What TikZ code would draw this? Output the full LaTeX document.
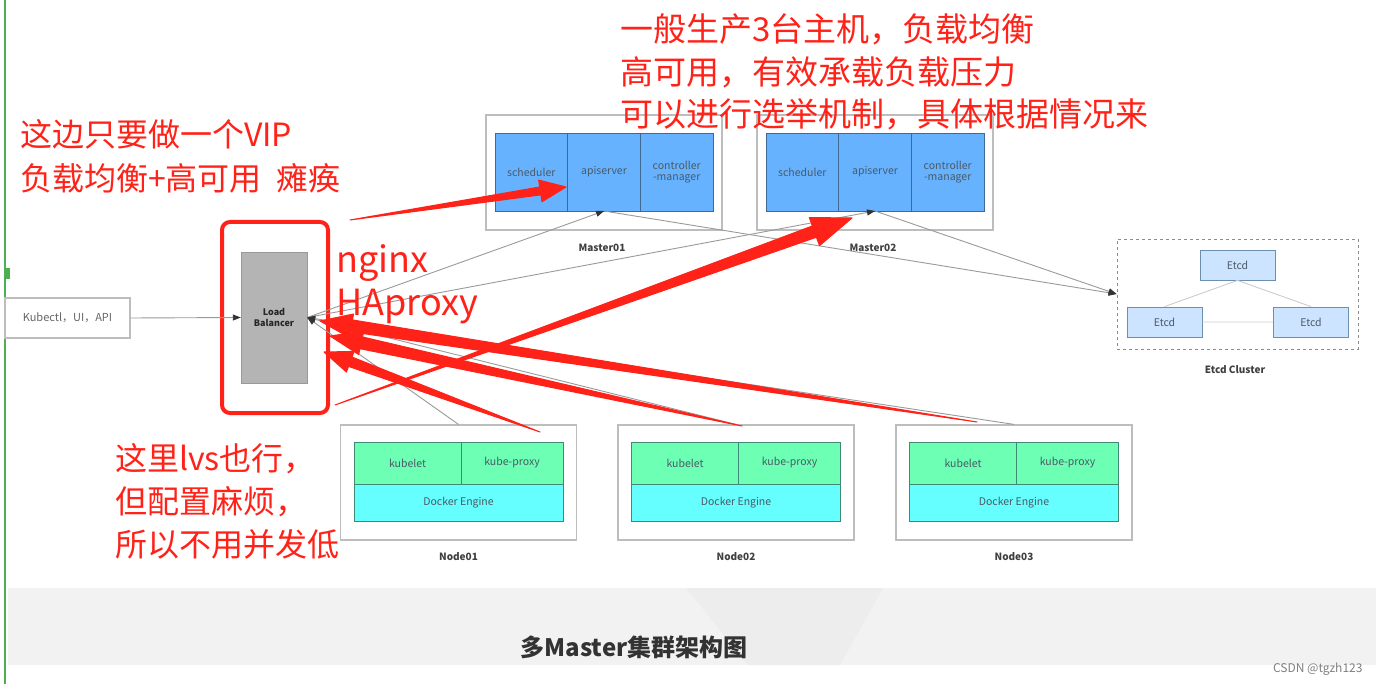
\documentclass[tikz,border=0pt]{standalone}
\usepackage{fontspec}
\setmainfont{Noto Sans CJK SC}
\usetikzlibrary{arrows.meta,positioning,calc}
\definecolor{annot}{HTML}{FF2218}
\definecolor{wirec}{HTML}{9A9A9A}
\definecolor{tipc}{HTML}{333333}
\definecolor{apic}{HTML}{66B2FF}
\definecolor{apiln}{HTML}{3F6A94}
\definecolor{kubec}{HTML}{6DFFB3}
\definecolor{dockc}{HTML}{66FFFF}
\definecolor{nodeln}{HTML}{3E8A74}
\definecolor{etcdc}{HTML}{CCE4FF}
\definecolor{etcdln}{HTML}{6C8FB0}
\definecolor{lbc}{HTML}{B4B4B4}
\definecolor{boxln}{HTML}{BDBDBD}
\definecolor{labc}{HTML}{4A5A66}
\definecolor{edge}{HTML}{4CAF50}

% tail, tip, shaft half width, head length, head half width
\newcommand\fatarrow[5]{%
  \coordinate (fa-b) at ($(#2)!#4!(#1)$);
  \filldraw[annot,line width=1pt,line join=round]
    (#1) -- ($(fa-b)!#3!90:(#2)$) -- ($(fa-b)!#5!90:(#2)$) -- (#2)
    -- ($(fa-b)!#5!-90:(#2)$) -- ($(fa-b)!#3!-90:(#2)$) -- cycle;}

\begin{document}
\begin{tikzpicture}[x=1pt,y=-1pt,
    hostbox/.style={draw=boxln,line width=1.2pt,fill=white,minimum width=236pt,minimum height=115pt,inner sep=0pt},
    mcell/.style={draw=apiln,fill=apic,line width=0.8pt,minimum width=72.7pt,minimum height=78pt,inner sep=0pt,outer sep=0pt,
      text=labc,align=center,font=\fontsize{10.5}{11.5}\selectfont},
    kcell/.style={draw=nodeln,fill=kubec,line width=0.8pt,minimum height=42pt,inner sep=0pt,outer sep=0pt,
      text=labc,font=\fontsize{10.5}{11.5}\selectfont},
    dock/.style={draw=nodeln,fill=dockc,line width=0.8pt,minimum width=209pt,minimum height=37pt,inner sep=0pt,outer sep=0pt,
      text=labc,font=\fontsize{10.5}{11.5}\selectfont},
    etcd/.style={draw=etcdln,fill=etcdc,line width=0.8pt,minimum width=75pt,minimum height=30pt,inner sep=0pt,
      text=labc,font=\fontsize{10.5}{11.5}\selectfont},
    lab/.style={text=black!75,font=\bfseries\fontsize{10}{12}\selectfont},
    wire/.style={draw=wirec,line width=0.9pt},
    arr/.style={-{Triangle[length=8pt,width=6pt,color=tipc]}},
    note/.style={text=annot,inner sep=0pt,anchor=base west,font=\fontsize{32}{40}\selectfont}]
  \useasboundingbox (0,0) rectangle (1380,684);
  \fill[white] (0,0) rectangle (1380,684);
  % grey band at the bottom
  \fill[black!5] (8,588) rectangle (1376,665);
  \fill[black!7] (686,588) -- (883,588) -- (840,665) -- (748,665) -- cycle;
  \draw[edge,line width=2pt] (5,0) -- (5,684);
  \fill[edge] (4,268) rectangle (10,279);

  % client and load balancer
  \node[draw=boxln,line width=1.2pt,fill=white,minimum width=125pt,minimum height=40pt,text=black!60,
    font=\fontsize{11}{12}\selectfont] (kub) at (67.5,318) {Kubectl，UI，API};
  \node[draw=black!40,fill=lbc,minimum width=66pt,minimum height=131pt,align=center,text=black!85,
    font=\bfseries\fontsize{9}{11}\selectfont] (lb) at (274,317.5) {Load\\Balancer};
  \node[draw=annot,line width=4pt,rounded corners=8pt,minimum width=106pt,minimum height=191pt] (lbframe) at (275,317.5) {};

  % masters
  \foreach \m/\x in {1/604,2/875}{
    \node[hostbox] (master\m) at (\x,172.5) {};
    \node[mcell] (api\m) at (\x,172) {apiserver};
    \node[mcell,left=0pt of api\m] (sched\m) {scheduler};
    \node[mcell,right=0pt of api\m] (ctrl\m) {controller\\-manager};
    \node[lab] (mlab\m) at (\x-2,248) {Master0\m};
  }

  % workers
  \foreach \k/\x in {1/458.5,2/736,3/1014}{
    \node[hostbox] (node\k) at (\x,482.5) {};
    \node[dock] (dock\k) at (\x,502.5) {Docker Engine};
    \node[kcell,minimum width=107pt,anchor=south west] (kubelet\k) at (dock\k.north west) {kubelet};
    \node[kcell,minimum width=102pt,anchor=south east] (proxy\k) at (dock\k.north east) {kube-proxy};
    \node[lab] (nlab\k) at (\x,557) {Node0\k};
  }

  % etcd
  \node[draw=black!45,dashed,line width=0.9pt,minimum width=241pt,minimum height=110pt] (ecl) at (1237.5,294) {};
  \node[etcd] (etcd1) at (1237.5,265) {Etcd};
  \node[etcd] (etcd2) at (1164.5,322) {Etcd};
  \node[etcd] (etcd3) at (1311,322) {Etcd};
  \draw[draw=black!20,line width=0.9pt] (etcd1.south) -- (etcd2.north) (etcd1.south) -- (etcd3.north)
    (etcd2.east) -- (etcd3.west);
  \node[lab] (elab) at (1235,370) {Etcd Cluster};

  % grey connectors
  \draw[wire,arr] (kub.east) -- (lb.west);
  \foreach \m in {1,2}{
    \draw[wire,arr] (lb.east) -- (api\m.south);
    \draw[wire,arr] (api\m.south) -- (ecl.west);
  }
  \foreach \k in {1,2,3}{\draw[wire,arr] (node\k.north) -- (lb.east);}

  % red notes
  \foreach \t [count=\i] in {一般生产3台主机，负载均衡,高可用，有效承载负载压力,可以进行选举机制，具体根据情况来}
    {\node[note,font=\fontsize{33}{40}\selectfont] (tr\i) at (620,42+42.5*\i-42.5) {\t};}
  \foreach \t [count=\i] in {这边只要做一个VIP,负载均衡+高可用~~瘫痪}
    {\node[note] (tl\i) at (20,147+44*\i-44) {\t};}
  \foreach \t [count=\i] in {这里lvs也行，,但配置麻烦，,所以不用并发低}
    {\node[note] (bl\i) at (115,470+43*\i-43) {\t};}
  \node[note,font=\fontsize{36}{40}\selectfont] (ngx) at (336,273) {nginx};
  \node[note,font=\fontsize{36}{40}\selectfont] (hap) at (336,316) {HAproxy};

  % red arrows
  \coordinate (vipS) at (350,220);  \coordinate (vipT) at (566,187);
  \coordinate (m2S) at (335,405);   \coordinate (m2T) at (852,218);
  \coordinate (n1S) at (540,432);   \coordinate (n1T) at (324,352);
  \coordinate (n2S) at (742,426);   \coordinate (n2T) at (330,336);
  \coordinate (n3S) at (977,422);   \coordinate (n3T) at (320,321);
  \fatarrow{vipS}{vipT}{4pt}{26pt}{11pt}
  \fatarrow{m2S}{m2T}{6pt}{40pt}{15pt}
  \fatarrow{n1S}{n1T}{5pt}{28pt}{11pt}
  \fatarrow{n2S}{n2T}{6pt}{32pt}{12pt}
  \fatarrow{n3S}{n3T}{6pt}{32pt}{12pt}

  % title
  \node[text=black!80,font=\bfseries\fontsize{24}{26}\selectfont] (title) at (634,647) {多Master集群架构图};
  \node[anchor=base east,text=black!50,font=\fontsize{12}{14}\selectfont] (mark) at (1366,672) {CSDN @tgzh123};
\end{tikzpicture}
\end{document}
